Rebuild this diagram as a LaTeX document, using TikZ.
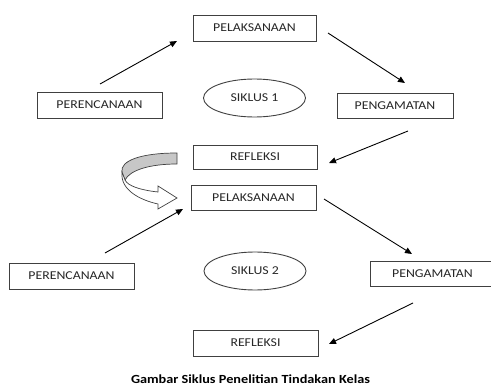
\documentclass[tikz,border=0pt]{standalone}
\usepackage{fontspec}
\setmainfont{Carlito}[FakeStretch=1.15]
\usetikzlibrary{shapes.geometric,arrows.meta}
\begin{document}
\begin{tikzpicture}[x=1pt,y=-1pt,
  box/.style={draw=black!75,line width=0.9pt,rectangle,inner sep=0pt,font=\fontsize{12}{14}\selectfont,text=black!85},
  oval/.style={draw=black!75,line width=0.9pt,ellipse,inner sep=0pt,font=\fontsize{12}{14}\selectfont,text=black!85},
  arr/.style={draw=black,line width=0.9pt,-{Triangle[length=7pt,width=6pt]}}]
\useasboundingbox (0,0) rectangle (491,388);
% boxes
\node[box,minimum width=123pt,minimum height=26pt] (pel1) at (254.5,28) {PELAKSANAAN};
\node[box,minimum width=125pt,minimum height=26pt] (per1) at (99.5,105) {PERENCANAAN};
\node[oval,minimum width=102pt,minimum height=38pt] (sik1) at (254.5,98) {SIKLUS 1};
\node[box,minimum width=116pt,minimum height=25pt] (pen1) at (395,105.5) {PENGAMATAN};
\node[box,minimum width=124pt,minimum height=24pt] (ref1) at (255,157) {REFLEKSI};
\node[box,minimum width=125pt,minimum height=25pt] (pel2) at (253.5,197.5) {PELAKSANAAN};
\node[box,minimum width=125pt,minimum height=26pt] (per2) at (71.5,276) {PERENCANAAN};
\node[oval,minimum width=102pt,minimum height=38pt] (sik2) at (255,271) {SIKLUS 2};
\node[box,minimum width=124pt,minimum height=25pt] (pen2) at (432.5,273.5) {PENGAMATAN};
\node[box,minimum width=125pt,minimum height=26pt] (ref2) at (255.5,343) {REFLEKSI};
\node[font=\fontsize{12.4}{14}\selectfont\bfseries] (cap) at (250.5,379) {Gambar Siklus Penelitian Tindakan Kelas};
% arrow end points
\coordinate (a1s) at (100,84);  \coordinate (a1e) at (177,41);
\coordinate (a2s) at (328,33);  \coordinate (a2e) at (405,83);
\coordinate (a3s) at (408,131); \coordinate (a3e) at (329,163);
\coordinate (a4s) at (105,253); \coordinate (a4e) at (183,209);
\coordinate (a5s) at (324,199); \coordinate (a5e) at (412,254);
\coordinate (a6s) at (413,303); \coordinate (a6e) at (329,344);
\draw[arr] (a1s) -- (a1e);
\draw[arr] (a2s) -- (a2e);
\draw[arr] (a3s) -- (a3e);
\draw[arr] (a4s) -- (a4e);
\draw[arr] (a5s) -- (a5e);
\draw[arr] (a6s) -- (a6e);
% curved block arrow
\draw[black!75,line width=0.7pt,fill=black!22]
  (177,153) .. controls (140,153) and (120,161) .. (122,172)
  -- (125,180) .. controls (130,170) and (150,164) .. (177,164) -- cycle;
\draw[black!75,line width=0.7pt,fill=white]
  (122,172) .. controls (120,190) and (140,200) .. (158,204)
  -- (158,209) -- (177,198) -- (158,186) -- (158,192)
  .. controls (140,190) and (128,186) .. (125,180) -- cycle;
\end{tikzpicture}
\end{document}
